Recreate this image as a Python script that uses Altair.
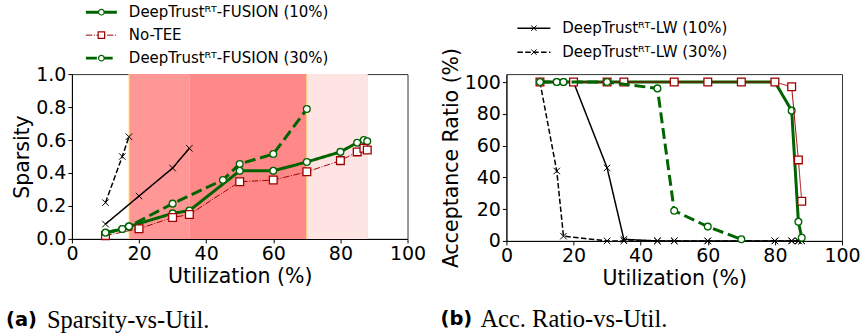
import altair as alt
import pandas as pd

# ---------------- data ----------------
# (a) Sparsity vs utilization
sp_lw10_x = [10, 20, 30, 35]
sp_lw10_y = [0.09, 0.26, 0.43, 0.55]
sp_lw30_x = [10, 15, 17]
sp_lw30_y = [0.22, 0.50, 0.62]
sp_fu10_x = [10, 15, 17, 30, 35, 50, 60, 70, 80, 85, 87, 88]
sp_fu10_y = [0.035, 0.06, 0.075, 0.155, 0.172, 0.413, 0.413, 0.467, 0.528, 0.584, 0.60, 0.592]
sp_notee_x = [10, 20, 30, 35, 50, 60, 70, 80, 85, 87, 88]
sp_notee_y = [0.02, 0.062, 0.13, 0.148, 0.347, 0.357, 0.407, 0.475, 0.528, 0.55, 0.539]
sp_fu30_x = [10, 15, 17, 30, 45, 50, 60, 70]
sp_fu30_y = [0.038, 0.06, 0.076, 0.214, 0.358, 0.455, 0.515, 0.788]

# shaded utilization bands
band_start = [17, 35, 70]
band_end = [35, 70, 88]
band_color = ["#FF9797", "#FF8888", "#FFE4E4"]
band_edges = [17, 70]

# (b) Acceptance ratio vs utilization
ar_lw10_x = [10, 20, 30, 35, 45, 50, 60, 80, 85, 87, 88]
ar_lw10_y = [100, 100, 46, 1, 0, 0, 0, 0, 0, 0, 0]
ar_lw30_x = [10, 15, 17, 30, 35, 45, 50, 60, 80, 85, 87, 88]
ar_lw30_y = [100, 44, 3, 0, 0, 0, 0, 0, 0, 0, 0, 0]
ar_fu10_x = [10, 15, 17, 30, 35, 50, 60, 70, 80, 85, 87, 88]
ar_fu10_y = [100, 100, 100, 100, 100, 100, 100, 100, 100, 82, 12, 2]
ar_notee_x = [10, 20, 30, 35, 50, 60, 70, 80, 85, 87, 88]
ar_notee_y = [100, 100, 100, 100, 100, 100, 100, 100, 97, 51, 25]
ar_fu30_x = [10, 15, 17, 30, 45, 50, 60, 70]
ar_fu30_y = [100, 100, 100, 100, 96, 19, 9, 1]

x_ticks = [0, 20, 40, 60, 80, 100]
sp_ticks = [0.0, 0.2, 0.4, 0.6, 0.8, 1.0]
ar_ticks = [0, 20, 40, 60, 80, 100]

legend_a = ["DeepTrustᴿᵀ-FUSION (10%)", "No-TEE", "DeepTrustᴿᵀ-FUSION (30%)"]
legend_b = ["DeepTrustᴿᵀ-LW (10%)", "DeepTrustᴿᵀ-LW (30%)"]

# ---------------- styles ----------------
GREEN = "#006400"
RED = "#A00000"
BLACK = "#000000"
XPATH = "M-1,-1L1,1M-1,1L1,-1"
FONT = "DejaVu Sans"

STY = {
    "lw10": dict(color=BLACK, width=1.5, dash=[1, 0], shape=XPATH, size=42, fill=None),
    "lw30": dict(color=BLACK, width=1.5, dash=[5.5, 2.4], shape=XPATH, size=42, fill=None),
    "fu10": dict(color=GREEN, width=3, dash=[1, 0], shape="circle", size=46, fill="white"),
    "fu30": dict(color=GREEN, width=3, dash=[11, 4.8], shape="circle", size=46, fill="white"),
    "notee_a": dict(color=RED, width=1, dash=[6.4, 1.6, 1, 1.6], shape="square", size=60, fill="white"),
    "notee_b": dict(color=RED, width=1, dash=[1, 0], shape="square", size=60, fill="white"),
}


def xenc():
    return alt.X(
        "x:Q",
        scale=alt.Scale(domain=[0, 100], nice=False, zero=False),
        axis=alt.Axis(values=x_ticks, title="Utilization (%)", format="d"),
    )


def yenc(domain, ticks, title, fmt):
    return alt.Y(
        "y:Q",
        scale=alt.Scale(domain=domain, nice=False, zero=False),
        axis=alt.Axis(values=ticks, title=title, format=fmt),
    )


def series(xs, ys, sty, ydom, yticks, ytitle, yfmt):
    df = pd.DataFrame({"x": xs, "y": ys})
    base = alt.Chart(df).encode(x=xenc(), y=yenc(ydom, yticks, ytitle, yfmt))
    line = base.mark_line(color=sty["color"], strokeWidth=sty["width"],
                          strokeDash=sty["dash"], clip=True)
    if sty["fill"] is None:
        pts = base.mark_point(shape=sty["shape"], size=sty["size"], filled=False,
                              color=sty["color"], strokeWidth=1, opacity=1)
    else:
        pts = base.mark_point(shape=sty["shape"], size=sty["size"], filled=True,
                              fill=sty["fill"], stroke=sty["color"], strokeWidth=1.3,
                              opacity=1)
    return [line, pts]


one = pd.DataFrame({"a": [0]})


def legend_row(label, sty, y, x0, x1, xt):
    seg = alt.Chart(one).mark_rule(color=sty["color"], strokeWidth=sty["width"],
                                   strokeDash=sty["dash"]).encode(
        x=alt.value(x0), x2=alt.value(x1), y=alt.value(y))
    xm = (x0 + x1) / 2
    if sty["fill"] is None:
        pt = alt.Chart(one).mark_point(shape=sty["shape"], size=sty["size"] * 0.7,
                                       filled=False, color=sty["color"], strokeWidth=1,
                                       opacity=1).encode(x=alt.value(xm), y=alt.value(y))
    else:
        pt = alt.Chart(one).mark_point(shape=sty["shape"], size=sty["size"] * 0.7,
                                       filled=True, fill=sty["fill"], stroke=sty["color"],
                                       strokeWidth=1.2, opacity=1).encode(
            x=alt.value(xm), y=alt.value(y))
    txt = alt.Chart(one).mark_text(text=label, align="left", baseline="middle",
                                   font=FONT, fontSize=15, color="black").encode(
        x=alt.value(xt), y=alt.value(y))
    return [seg, pt, txt]


def caption(tag, text, y, xtag, xtext):
    t1 = alt.Chart(one).mark_text(text=tag, align="left", baseline="middle", font=FONT,
                                  fontSize=19.5, fontWeight="bold", color="black").encode(
        x=alt.value(xtag), y=alt.value(y))
    t2 = alt.Chart(one).mark_text(text=text, align="left", baseline="middle",
                                  font="Liberation Serif", fontSize=24.5, color="black").encode(
        x=alt.value(xtext), y=alt.value(y + 1))
    return [t1, t2]


# ---------------- panel (a) ----------------
band_df = pd.DataFrame({"x": band_start, "x2": band_end, "c": band_color})
bands = alt.Chart(band_df).mark_rect(opacity=1).encode(
    x=xenc(), x2="x2:Q",
    y=alt.value(0), y2=alt.value(165),
    color=alt.Color("c:N", scale=None),
)
edge_df = pd.DataFrame({"x": band_edges})
edges = alt.Chart(edge_df).mark_rule(color="#FFE27A", strokeWidth=1).encode(
    x=xenc(), y=alt.value(0), y2=alt.value(165))
end_df = pd.DataFrame({"x": [band_end[-1]]})
endline = alt.Chart(end_df).mark_rule(color="#E6E6E6", strokeWidth=1).encode(
    x=xenc(), y=alt.value(0), y2=alt.value(165))

A = dict(ydom=[0, 1], yticks=sp_ticks, ytitle="Sparsity", yfmt=".1f")
layers_a = [bands, edges, endline]
layers_a += series(sp_lw10_x, sp_lw10_y, STY["lw10"], A["ydom"], A["yticks"], A["ytitle"], A["yfmt"])
layers_a += series(sp_lw30_x, sp_lw30_y, STY["lw30"], A["ydom"], A["yticks"], A["ytitle"], A["yfmt"])
layers_a += series(sp_fu10_x, sp_fu10_y, STY["fu10"], A["ydom"], A["yticks"], A["ytitle"], A["yfmt"])
layers_a += series(sp_notee_x, sp_notee_y, STY["notee_a"], A["ydom"], A["yticks"], A["ytitle"], A["yfmt"])
layers_a += series(sp_fu30_x, sp_fu30_y, STY["fu30"], A["ydom"], A["yticks"], A["ytitle"], A["yfmt"])
leg_sty_a = [STY["fu10"], STY["notee_a"], STY["fu30"]]
for i, (lab, st) in enumerate(zip(legend_a, leg_sty_a)):
    layers_a += legend_row(lab, st, -62 + 23 * i, 14, 45, 57)
layers_a += caption("(a)", "Sparsity-vs-Util.", 246, -66, -25)

panel_a = alt.layer(*layers_a).properties(width=336, height=165)

# ---------------- panel (b) ----------------
B = dict(ydom=[0, 105], yticks=ar_ticks, ytitle="Acceptance Ratio (%)", yfmt="d")
layers_b = []
layers_b += series(ar_lw10_x, ar_lw10_y, STY["lw10"], B["ydom"], B["yticks"], B["ytitle"], B["yfmt"])
layers_b += series(ar_lw30_x, ar_lw30_y, STY["lw30"], B["ydom"], B["yticks"], B["ytitle"], B["yfmt"])
layers_b += series(ar_fu10_x, ar_fu10_y, STY["fu10"], B["ydom"], B["yticks"], B["ytitle"], B["yfmt"])
layers_b += series(ar_notee_x, ar_notee_y, STY["notee_b"], B["ydom"], B["yticks"], B["ytitle"], B["yfmt"])
layers_b += series(ar_fu30_x, ar_fu30_y, STY["fu30"], B["ydom"], B["yticks"], B["ytitle"], B["yfmt"])
leg_sty_b = [STY["lw10"], STY["lw30"]]
for i, (lab, st) in enumerate(zip(legend_b, leg_sty_b)):
    layers_b += legend_row(lab, st, -46 + 24 * i, 11, 44, 56)
layers_b += caption("(b)", "Acc. Ratio-vs-Util.", 245, -66, -26)

panel_b = alt.layer(*layers_b).properties(width=336, height=167)

chart = alt.hconcat(panel_a, panel_b, spacing=99, bounds="flush").properties(
    padding={"left": 5, "top": 4, "right": 0, "bottom": 0}
).configure_view(
    stroke="#333333", strokeWidth=1
).configure_axis(
    grid=False,
    labelFont=FONT, titleFont=FONT,
    labelFontSize=19, titleFontSize=20.5,
    titleFontWeight="normal",
    labelColor="black", titleColor="black",
    domainColor="black", tickColor="black",
    tickSize=4, labelPadding=2, titlePadding=3,
    labelFlush=False, labelOverlap=False,
)

chart.save("out.html", embed_options={"renderer": "svg", "actions": False})
